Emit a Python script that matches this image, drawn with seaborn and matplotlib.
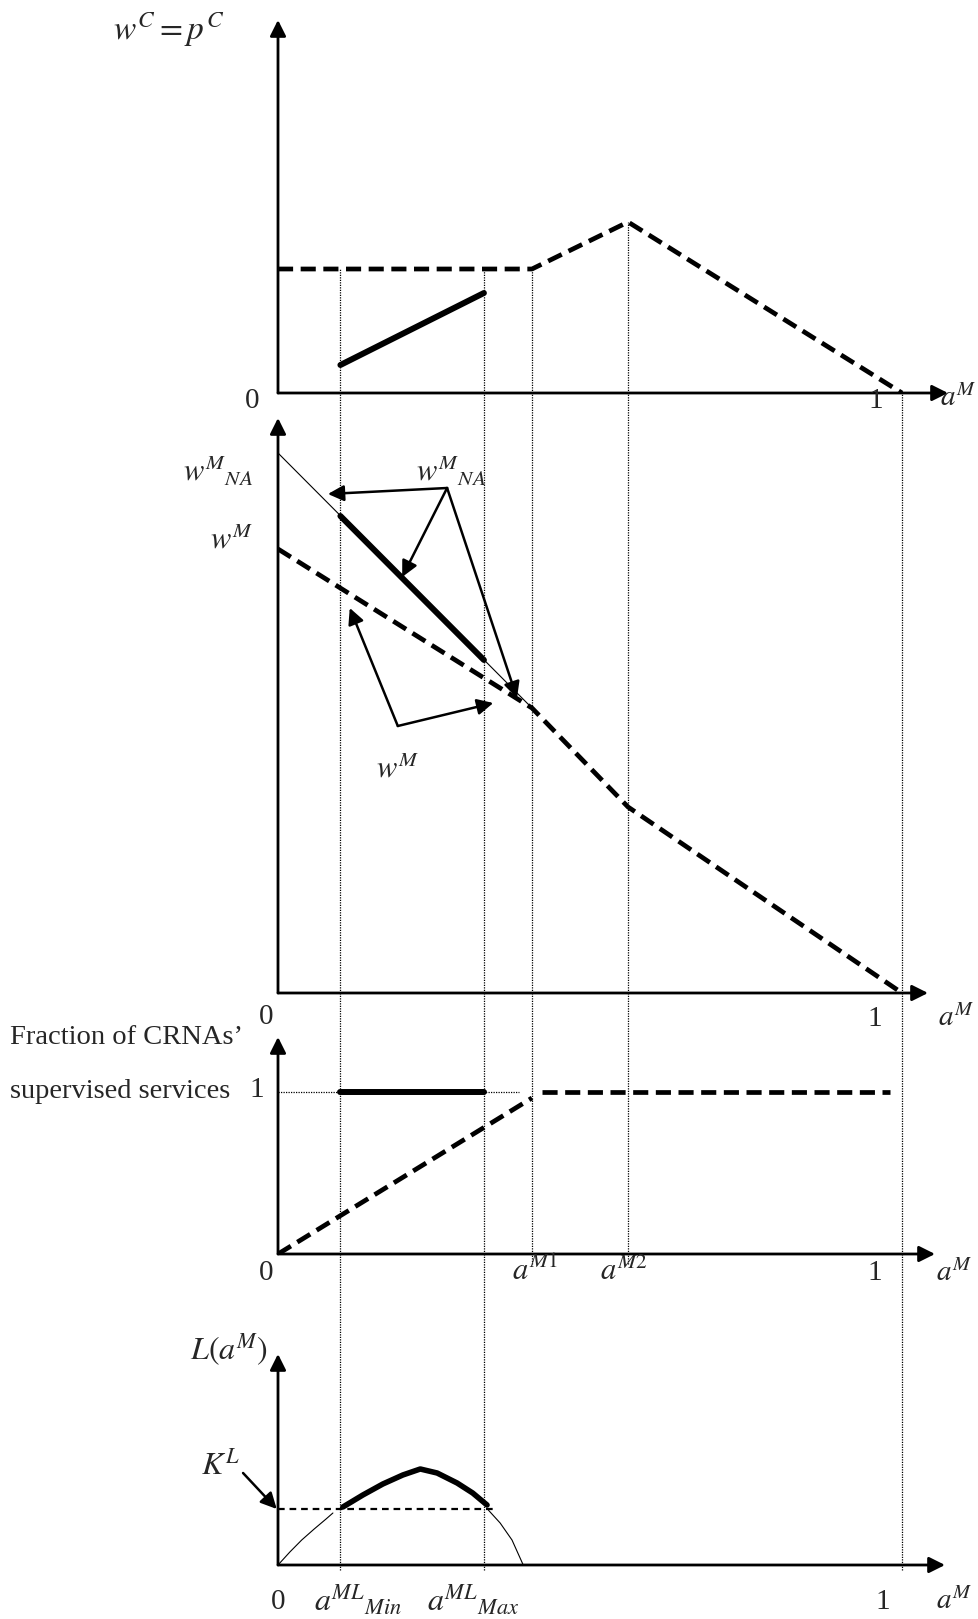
import matplotlib
matplotlib.use("Agg")
import numpy as np
import matplotlib.pyplot as plt
import seaborn as sns

# ---------------- data (a^M on x) ----------------
a_min, a_max, a_m1, a_m2, a_one = 0.10, 0.33, 0.407, 0.561, 1.0
cut_points = [a_min, a_max, a_m1, a_m2, a_one]

# panel 1 : w^C = p^C
wc_dash_x = [0.0, 0.407, 0.561, 1.0]
wc_dash_y = [1.24, 1.24, 1.71, 0.0]
wc_solid_x = [0.10, 0.33]
wc_solid_y = [0.28, 1.00]

# panel 2 : w^M and w^M_NA
wna_thin_x = [0.0, 0.407]
wna_thin_y = [5.40, 2.85]
wna_thick_x = [0.10, 0.33]
wna_thick_y = [4.77, 3.33]
wm_dash_x = [0.0, 0.407, 0.561, 1.0]
wm_dash_y = [4.44, 2.85, 1.86, 0.0]

# panel 3 : fraction of CRNAs' supervised services
frac_rise_x = [0.0, 0.407]
frac_rise_y = [0.0, 0.963]
frac_flat_x = [0.423, 0.98]
frac_flat_y = [1.0, 1.0]
frac_guide_x = [0.0, 0.386]
frac_guide_y = [1.0, 1.0]
frac_thick_x = [0.10, 0.33]
frac_thick_y = [1.0, 1.0]

# panel 4 : L(a^M)
L_left_x = [0.0, 0.019, 0.038, 0.058, 0.077, 0.088]
L_left_y = [0.0, 0.13, 0.25, 0.36, 0.46, 0.52]
L_mid_x = [0.104, 0.136, 0.168, 0.200, 0.228, 0.255, 0.287, 0.312, 0.335]
L_mid_y = [0.58, 0.70, 0.81, 0.90, 0.96, 0.92, 0.82, 0.72, 0.60]
L_right_x = [0.337, 0.356, 0.375, 0.393]
L_right_y = [0.55, 0.42, 0.25, 0.0]
KL_x = [0.0, 0.351]
KL_y = [0.56, 0.56]

# ---------------- style ----------------
sns.set_style("white")
plt.rcParams["font.family"] = ["Liberation Serif", "DejaVu Serif"]
plt.rcParams["mathtext.fontset"] = "stix"

W, H = 979, 1619
fig = plt.figure(figsize=(W / 100, H / 100), dpi=100)
X0, XS, XR = 278, 624, 960

def add_panel(top_px, bottom_px, yscale):
    ax = fig.add_axes([X0 / W, 1 - bottom_px / H, (XR - X0) / W, (bottom_px - top_px) / H])
    ax.set_xlim(0, (XR - X0) / XS)
    ax.set_ylim(0, (bottom_px - top_px) / yscale)
    ax.set_axis_off()
    return ax

AX_KW = dict(arrowstyle="-|>", lw=2.0, color="k", mutation_scale=24, shrinkA=0, shrinkB=0)
ARR_KW = dict(arrowstyle="-|>", lw=1.8, color="k", mutation_scale=24, shrinkA=0, shrinkB=0)

def axis_arrows(ax, x_tip_px, y_tip_px, bottom_px, yscale):
    xt = (x_tip_px - X0) / XS
    yt = (bottom_px - y_tip_px) / yscale
    ax.annotate("", xy=(xt, 0), xytext=(0, 0), arrowprops=AX_KW, annotation_clip=False)
    ax.annotate("", xy=(0, yt), xytext=(0, 0), arrowprops=AX_KW, annotation_clip=False)

def label(x_px, y_px, s, size=21, ha="center", va="center"):
    fig.text(x_px / W, 1 - y_px / H, s, fontsize=size, ha=ha, va=va)

DASH = (0, (3.2, 1.6))
DOT = (0, (1, 1))
GUIDE = dict(color="k", lw=0.9, linestyle=DOT)

def line(ax, x, y, lw, ls="-"):
    sns.lineplot(x=x, y=y, ax=ax, color="k", lw=lw, linestyle=ls, legend=False)

ax1 = add_panel(10, 393, 100)
ax2 = add_panel(393, 993, 100)
ax3 = add_panel(993, 1254, 162)
ax4 = add_panel(1254, 1565, 100)

# ---- panel 1 ----
tops = np.interp(cut_points[:4], wc_dash_x, wc_dash_y)
ax1.vlines(cut_points[:4], 0, tops, **GUIDE)
line(ax1, wc_dash_x, wc_dash_y, 3.4, DASH)
line(ax1, wc_solid_x, wc_solid_y, 4.3)
axis_arrows(ax1, 948, 20, 393, 100)

# ---- panel 2 ----
ax2.vlines(cut_points, 0, ax2.get_ylim()[1], **GUIDE)
line(ax2, wna_thin_x, wna_thin_y, 0.8)
line(ax2, wna_thick_x, wna_thick_y, 4.3)
line(ax2, wm_dash_x, wm_dash_y, 3.4, DASH)
axis_arrows(ax2, 928, 418, 993, 100)
src = (0.271, 5.05)
for tgt in [(0.080, 4.99), (0.199, 4.16), (0.383, 2.95)]:
    ax2.annotate("", xy=tgt, xytext=src, arrowprops=ARR_KW)
src2 = (0.192, 2.67)
for tgt in [(0.115, 3.85), (0.345, 2.90)]:
    ax2.annotate("", xy=tgt, xytext=src2, arrowprops=ARR_KW)

# ---- panel 3 ----
ax3.vlines(cut_points[:2] + [a_one], 0, ax3.get_ylim()[1], **GUIDE)
ax3.vlines([a_m1, a_m2], -0.06, ax3.get_ylim()[1], clip_on=False, **GUIDE)
line(ax3, frac_guide_x, frac_guide_y, 0.9, DOT)
line(ax3, frac_thick_x, frac_thick_y, 4.3)
line(ax3, frac_rise_x, frac_rise_y, 3.4, DASH)
line(ax3, frac_flat_x, frac_flat_y, 3.4, DASH)
axis_arrows(ax3, 935, 1037, 1254, 162)

# ---- panel 4 ----
ax4.vlines([a_min, a_max, a_one], -0.05, ax4.get_ylim()[1], clip_on=False, **GUIDE)
line(ax4, KL_x, KL_y, 1.6, (0, (3.0, 2.2)))
line(ax4, L_left_x, L_left_y, 0.8)
line(ax4, L_mid_x, L_mid_y, 4.0)
line(ax4, L_right_x, L_right_y, 0.8)
axis_arrows(ax4, 945, 1354, 1565, 100)
ax4.annotate("", xy=(-0.002, 0.56), xytext=(-0.056, 0.92), arrowprops=ARR_KW, annotation_clip=False)

# ---------------- labels ----------------
label(169, 30, r"$w^{C}=p^{C}$", 24)
label(252, 401, "0")
label(876, 401, "1")
label(940, 398, r"$a^{M}$", 21, ha="left")

label(253, 472, r"$w^{M}{}_{NA}$", 22, ha="right")
label(253, 541, r"$w^{M}$", 22, ha="right")
label(451, 472, r"$w^{M}{}_{NA}$", 22)
label(397, 770, r"$w^{M}$", 22)
label(266, 1017, "0")
label(875, 1019, "1")
label(938, 1018, r"$a^{M}$", 21, ha="left")

label(10, 1037, "Fraction of CRNAs\u2019", 20.5, ha="left")
label(10, 1091, "supervised services", 20.5, ha="left")
label(257, 1090, "1")
label(266, 1273, "0")
label(535, 1272, r"$a^{M1}$", 22)
label(624, 1272, r"$a^{M2}$", 22)
label(875, 1273, "1")
label(936, 1273, r"$a^{M}$", 21, ha="left")

label(268, 1350, r"$L(a^{M})$", 23, ha="right")
label(221, 1466, r"$K^{L}$", 23)
label(278, 1602, "0")
label(358, 1600, r"$a^{ML}{}_{Min}$", 23)
label(473, 1600, r"$a^{ML}{}_{Max}$", 23)
label(883, 1602, "1")
label(936, 1601, r"$a^{M}$", 21, ha="left")

fig.savefig("out.png", dpi=100)
